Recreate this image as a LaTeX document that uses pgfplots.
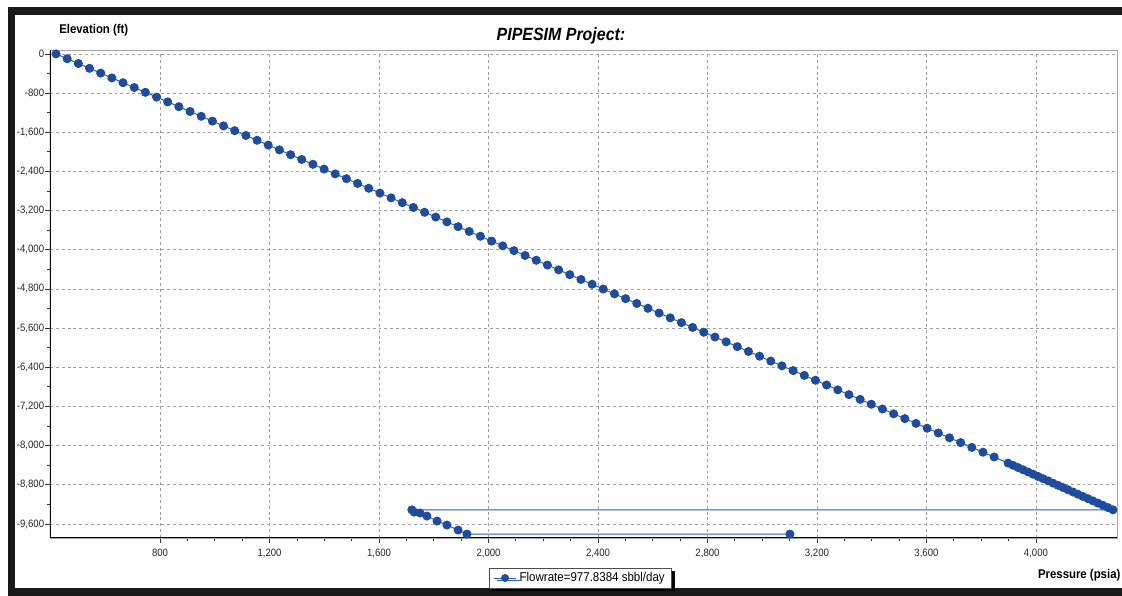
\documentclass[border=0pt]{standalone}
\usepackage{fontspec}
\setmainfont{Liberation Sans}[FakeStretch=0.9]
\usepackage{pgfplots}
\pgfplotsset{compat=1.18}
\usetikzlibrary{shadows}
\definecolor{mk}{RGB}{31,76,156}
\definecolor{ln}{RGB}{45,92,178}
\begin{document}
\begin{tikzpicture}
\path[use as bounding box, fill=white] (0,0) rectangle (841.5pt,447pt);
% frame
\fill[black!90] (6pt,435.75pt) rectangle (841.5pt,441.75pt);
\fill[black!90] (6pt,0pt) rectangle (11.25pt,441.75pt);
\fill[black!90] (6pt,0pt) rectangle (841.5pt,6pt);
\begin{axis}[
  scale only axis,
  anchor=south west,
  at={(37.5pt,43.5pt)},
  width=800.25pt, height=366pt,
  xmin=398, xmax=4296, ymin=-9886, ymax=80,
  xtick={800,1200,...,4000},
  ytick={0,-800,...,-9600},
  minor x tick num=3,
  minor y tick num=1,
  tick pos=left,
  tick align=outside,
  major tick length=3.4pt,
  minor tick length=2.2pt,
  every tick/.style={black!80, line width=0.6pt},
  grid=major,
  major grid style={gray!75, line width=0.55pt, dash pattern=on 2.2pt off 2.2pt},
  axis line style={gray!70, line width=0.6pt},
  /pgf/number format/.cd, 1000 sep={,}, assume math mode=true,
  /pgfplots/.cd,
  tick label style={font=\fontsize{8}{9}\selectfont, text=black!85},
  yticklabel style={xshift=0.2pt, inner sep=1pt},
  xticklabel style={yshift=-1.5pt},
  legend style={at={(0.497,-0.082)}, anchor=center, draw=black!70, line width=0.6pt,
    font=\fontsize{9.6}{11}\selectfont, inner xsep=3pt, inner ysep=1.2pt,
    drop shadow={shadow xshift=2.4pt, shadow yshift=-2pt, fill=black, opacity=1}},
  legend image post style={mark size=2.6pt},
]
\addplot[color=ln, line width=0.75pt, mark=*, mark size=3pt, mark options={fill=mk, draw=mk}] coordinates {
(420,0) (460.8,-98) (501.6,-196) (542.4,-294) (583.2,-392) (624,-490) (664.8,-588) (705.6,-686) (746.4,-784) (787.2,-882)
(828,-980) (868.8,-1078) (909.6,-1176) (950.4,-1274) (991.2,-1372) (1032,-1470) (1072.8,-1568) (1113.6,-1666) (1154.4,-1764) (1195.2,-1862)
(1236,-1960) (1276.8,-2058) (1317.6,-2156) (1358.4,-2254) (1399.2,-2352) (1440,-2450) (1480.8,-2548) (1521.6,-2646) (1562.4,-2744) (1603.2,-2842)
(1644,-2940) (1684.8,-3038) (1725.6,-3136) (1766.4,-3234) (1807.2,-3332) (1848,-3430) (1888.8,-3528) (1929.6,-3626) (1970.4,-3724) (2011.2,-3822)
(2052,-3920) (2092.8,-4018) (2133.6,-4116) (2174.4,-4214) (2215.2,-4312) (2256,-4410) (2296.8,-4508) (2337.6,-4606) (2378.4,-4704) (2419.2,-4802)
(2460,-4900) (2500.8,-4998) (2541.6,-5096) (2582.4,-5194) (2623.2,-5292) (2664,-5390) (2704.8,-5488) (2745.6,-5586) (2786.4,-5684) (2827.2,-5782)
(2868,-5880) (2908.8,-5978) (2949.6,-6076) (2990.4,-6174) (3031.2,-6272) (3072,-6370) (3112.8,-6468) (3153.6,-6566) (3194.4,-6664) (3235.2,-6762)
(3276,-6860) (3316.8,-6958) (3357.6,-7056) (3398.4,-7154) (3439.2,-7252) (3480,-7350) (3520.8,-7448) (3561.6,-7546) (3602.4,-7644) (3643.2,-7742)
(3684,-7840) (3724.8,-7938) (3765.6,-8036) (3806.4,-8134) (3847.2,-8232)
(3898,-8356) (3916.2,-8401) (3934.5,-8447) (3952.7,-8492) (3971,-8538) (3989.2,-8583) (4007.4,-8629) (4025.7,-8674) (4043.9,-8719) (4062.2,-8765)
(4080.4,-8810) (4098.6,-8856) (4116.9,-8901) (4135.1,-8947) (4153.4,-8992) (4171.6,-9037) (4189.8,-9083) (4208.1,-9128) (4226.3,-9174) (4244.6,-9219)
(4262.8,-9265) (4281,-9310)
(1720,-9310) (1728,-9356) (1750,-9376) (1775,-9438) (1812,-9540) (1848,-9621) (1889,-9724) (1921,-9806) (3101,-9806)
};
\addlegendentry{Flowrate=977.8384 sbbl/day}
\draw[black, line width=1.5pt] (rel axis cs:0,1) -- (rel axis cs:0,0) -- (rel axis cs:1,0);
\end{axis}
% labels
\node[anchor=west, inner sep=0pt, font=\bfseries\fontsize{9.5}{10}\selectfont] at (44.25pt,424.5pt) {Elevation (ft)};
\node[anchor=center, inner sep=0pt, font=\bfseries\itshape\fontsize{13.3}{15}\selectfont] at (420.75pt,420pt) {PIPESIM Project:};
\node[anchor=east, inner sep=0pt, font=\bfseries\fontsize{9.5}{10}\selectfont] at (840.5pt,15.75pt) {Pressure (psia)};
\end{tikzpicture}
\end{document}
